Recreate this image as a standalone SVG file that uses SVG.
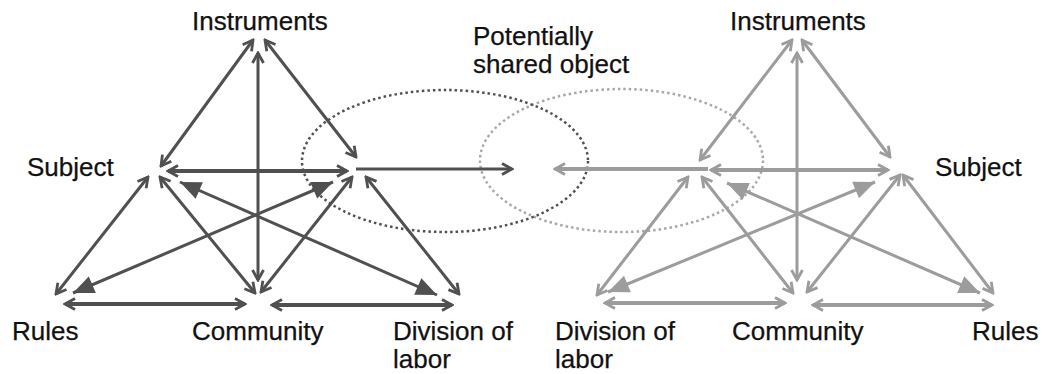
<svg xmlns="http://www.w3.org/2000/svg" width="1045" height="374" viewBox="0 0 1045 374">
<style>
.lbl{font-family:"Liberation Sans",Arial,sans-serif;font-size:26px;fill:#111;stroke:#111;stroke-width:0.25}
.d{stroke:#505050;fill:none;stroke-width:3}
.l{stroke:#9c9c9c;fill:none;stroke-width:3}
.thick{stroke-width:4}
.d.s{marker-start:url(#sd);marker-end:url(#sd)}
.l.s{marker-start:url(#sl);marker-end:url(#sl)}
.d.b{marker-start:url(#bd);marker-end:url(#bd)}
.l.b{marker-start:url(#bl);marker-end:url(#bl)}
.d.e{marker-end:url(#sd)}
.l.e{marker-end:url(#sl)}
.ell{fill:none;stroke-width:2.5;stroke-dasharray:2.5 3}
</style>
<defs>
<marker id="sd" markerUnits="userSpaceOnUse" viewBox="-14 -9 16 18" markerWidth="16" markerHeight="18" refX="0" refY="0" orient="auto-start-reverse"><path d="M-10,-5.5 L0,0 L-10,5.5" fill="none" stroke="#505050" stroke-width="2.8"/></marker>
<marker id="sl" markerUnits="userSpaceOnUse" viewBox="-14 -9 16 18" markerWidth="16" markerHeight="18" refX="0" refY="0" orient="auto-start-reverse"><path d="M-10,-5.5 L0,0 L-10,5.5" fill="none" stroke="#9c9c9c" stroke-width="2.8"/></marker>
<marker id="bd" markerUnits="userSpaceOnUse" viewBox="-23 -11 25 22" markerWidth="25" markerHeight="22" refX="0" refY="0" orient="auto-start-reverse"><path d="M-21,-9 L0,0 L-21,9 Z" fill="#505050"/></marker>
<marker id="bl" markerUnits="userSpaceOnUse" viewBox="-23 -11 25 22" markerWidth="25" markerHeight="22" refX="0" refY="0" orient="auto-start-reverse"><path d="M-21,-9 L0,0 L-21,9 Z" fill="#9c9c9c"/></marker>
</defs>
<rect width="1045" height="374" fill="#fff"/>
<g id="shared-object">
<ellipse class="ell" cx="621.5" cy="160.5" rx="141.5" ry="71.5" stroke="#a8a8a8"/>
<ellipse class="ell" cx="445" cy="161" rx="143" ry="71" stroke="#505050"/>
<text class="lbl" x="473" y="45">Potentially</text>
<text class="lbl" x="473" y="73">shared object</text>
</g>
<g id="connectors">
<line class="d s" x1="253" y1="40" x2="161" y2="166"/>
<line class="d s" x1="265" y1="40" x2="356" y2="157"/>
<line class="d s" x1="258" y1="53" x2="258" y2="280"/>
<line class="d s thick" x1="168" y1="171" x2="347" y2="171"/>
<line class="d e" x1="356" y1="169" x2="512" y2="169"/>
<line class="d s" x1="148" y1="177" x2="56" y2="294"/>
<line class="d s" x1="160" y1="177" x2="255" y2="293"/>
<line class="d b" x1="180" y1="182" x2="437" y2="295"/>
<line class="d b" x1="73" y1="293" x2="333" y2="182"/>
<line class="d s" x1="352" y1="177" x2="261" y2="292"/>
<line class="d s" x1="366" y1="177" x2="459" y2="294"/>
<line class="d s thick" x1="65" y1="304" x2="245" y2="304"/>
<line class="d s thick" x1="272" y1="305" x2="452" y2="305"/>

<line class="l s" x1="792" y1="40" x2="700" y2="160"/>
<line class="l s" x1="802" y1="40" x2="890" y2="157"/>
<line class="l s" x1="797" y1="53" x2="797" y2="280"/>
<line class="l s thick" x1="711" y1="170" x2="888" y2="170"/>
<line class="l e thick" x1="708" y1="169" x2="555" y2="169"/>
<line class="l s" x1="688" y1="177" x2="597" y2="295"/>
<line class="l s" x1="702" y1="177" x2="793" y2="293"/>
<line class="l b" x1="727" y1="183" x2="980" y2="293"/>
<line class="l b" x1="608" y1="292" x2="875" y2="182"/>
<line class="l s" x1="900" y1="175" x2="807" y2="292"/>
<line class="l s" x1="903" y1="175" x2="993" y2="293"/>
<line class="l s thick" x1="605" y1="303" x2="785" y2="303"/>
<line class="l s thick" x1="813" y1="305" x2="992" y2="305"/>
</g>
<g id="left-instruments"><text class="lbl" x="192" y="30">Instruments</text></g>
<g id="left-subject"><text class="lbl" x="27" y="176">Subject</text></g>
<g id="left-rules"><text class="lbl" x="12" y="340">Rules</text></g>
<g id="left-community"><text class="lbl" x="192" y="340">Community</text></g>
<g id="left-division"><text class="lbl" x="393" y="340">Division of</text><text class="lbl" x="393" y="368">labor</text></g>
<g id="right-instruments"><text class="lbl" x="730" y="30">Instruments</text></g>
<g id="right-subject"><text class="lbl" x="935" y="176">Subject</text></g>
<g id="right-division"><text class="lbl" x="555" y="340">Division of</text><text class="lbl" x="555" y="368">labor</text></g>
<g id="right-community"><text class="lbl" x="732" y="340">Community</text></g>
<g id="right-rules"><text class="lbl" x="972" y="340">Rules</text></g>
</svg>
